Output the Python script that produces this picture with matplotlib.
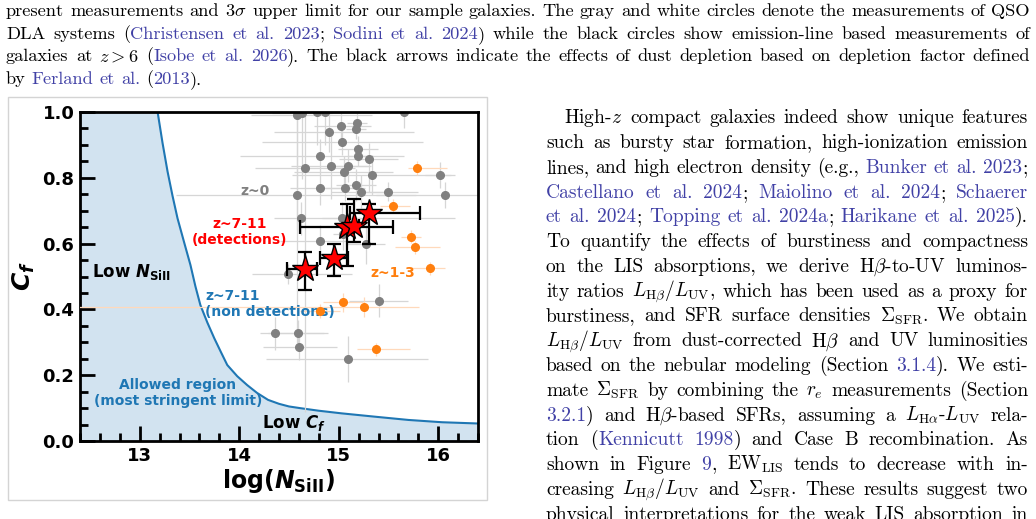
import numpy as np
import matplotlib
matplotlib.use('Agg')
import matplotlib.pyplot as plt
from matplotlib.ticker import MultipleLocator
from matplotlib.patches import Rectangle

plt.rcParams['mathtext.fontset'] = 'custom'
plt.rcParams['mathtext.rm'] = 'DejaVu Sans:bold'
plt.rcParams['mathtext.it'] = 'DejaVu Sans:italic:bold'
plt.rcParams['mathtext.bf'] = 'DejaVu Sans:bold'

# ---- data ----
# allowed-region boundary (log N_SiII, C_f)
curve_x = [13.18, 13.23, 13.28, 13.33, 13.38, 13.45, 13.51, 13.56, 13.61, 13.68, 13.75, 13.82, 13.88,
           13.98, 14.08, 14.18, 14.29, 14.40, 14.50, 14.61, 14.80, 15.03, 15.36, 15.70, 16.04, 16.42]
curve_y = [1.000, 0.905, 0.819, 0.745, 0.677, 0.600, 0.535, 0.470, 0.413, 0.360, 0.312, 0.268, 0.231,
           0.197, 0.170, 0.146, 0.125, 0.113, 0.105, 0.100, 0.092, 0.084, 0.074, 0.064, 0.057, 0.053]

# z~0 QSO DLA (gray)
gray_x = [14.58, 14.63, 14.78, 14.86, 15.66, 15.18, 15.02, 15.17, 14.90, 15.03,
          15.19, 14.81, 15.19, 15.30, 14.66, 14.92, 15.09, 15.05, 15.33, 16.02,
          14.81, 15.06, 15.17, 15.22, 15.50, 14.58, 16.07, 14.62, 15.03, 15.04,
          14.81, 15.27, 14.49, 15.40, 14.36, 14.59, 14.60, 15.09]
gray_y = [0.990, 0.997, 1.000, 1.000, 1.000, 0.968, 0.958, 0.948, 0.938, 0.908,
          0.888, 0.867, 0.867, 0.857, 0.829, 0.837, 0.837, 0.817, 0.808, 0.808,
          0.768, 0.768, 0.778, 0.758, 0.758, 0.748, 0.748, 0.677, 0.677, 0.630,
          0.608, 0.598, 0.508, 0.426, 0.327, 0.327, 0.287, 0.248]
gray_xlo = [0.46, 0.30, 0.30, 0.30, 0.20, 0.10, 0.27, 0.10, 0.55, 0.80,
            0.20, 0.80, 0.10, 0.30, 0.50, 0.40, 0.20, 0.50, 0.80, 0.15,
            0.30, 0.20, 0.20, 0.30, 0.30, 1.22, 0.70, 0.27, 0.20, 0.10,
            0.40, 0.20, 0.36, 0.30, 0.15, 0.30, 0.36, 0.82]
gray_xhi = [0.75, 0.30, 0.30, 0.30, 0.20, 0.10, 0.30, 0.10, 0.86, 0.82,
            0.20, 0.85, 0.10, 0.30, 0.50, 0.40, 0.20, 0.50, 0.80, 0.15,
            0.30, 0.20, 0.20, 0.30, 0.30, 1.20, 0.50, 1.55, 0.20, 0.10,
            0.40, 0.20, 0.64, 0.30, 0.49, 0.30, 0.38, 0.81]
gray_ylo = [0.35, 0.20, 0.10, 0.10, 0.05, 0.03, 0.05, 0.03, 0.06, 0.04,
            0.04, 0.05, 0.03, 0.10, 0.74, 0.10, 0.05, 0.05, 0.06, 0.04,
            0.05, 0.04, 0.05, 0.05, 0.03, 0.45, 0.04, 0.05, 0.05, 0.05,
            0.05, 0.06, 0.03, 0.05, 0.05, 0.04, 0.04, 0.07]
gray_yhi = [0.05, 0.05, 0.05, 0.05, 0.05, 0.03, 0.05, 0.03, 0.06, 0.04,
            0.04, 0.05, 0.03, 0.05, 0.17, 0.10, 0.05, 0.05, 0.06, 0.04,
            0.05, 0.04, 0.05, 0.05, 0.03, 0.25, 0.04, 0.05, 0.05, 0.05,
            0.05, 0.06, 0.03, 0.05, 0.05, 0.04, 0.04, 0.07]

# z~1-3 (orange)
orng_x = [15.79, 15.55, 15.73, 15.77, 15.92, 15.04, 15.25, 14.81, 15.37]
orng_y = [0.830, 0.715, 0.621, 0.589, 0.525, 0.421, 0.408, 0.395, 0.279]
orng_xlo = [0.09, 0.13, 0.10, 0.20, 0.20, 0.20, 3.00, 0.20, 0.19]
orng_xhi = [0.30, 0.17, 0.10, 0.25, 0.15, 0.20, 0.56, 0.20, 0.35]
orng_ye = [0.02, 0.02, 0.02, 0.02, 0.02, 0.03, 0.03, 0.02, 0.02]

# z~7-11 detections (red stars)
star_x = [14.66, 14.95, 15.08, 15.15, 15.30]
star_y = [0.523, 0.555, 0.651, 0.654, 0.692]
star_xlo = [0.18, 0.14, 0.47, 0.05, 0.19]
star_xhi = [0.12, 0.14, 0.47, 0.05, 0.52]
star_ylo = [0.064, 0.053, 0.118, 0.048, 0.094]
star_yhi = [0.052, 0.044, 0.069, 0.082, 0.028]

W, H = 1036, 519
fig = plt.figure(figsize=(W / 100, H / 100), dpi=100)
fig.patch.set_facecolor('white')

# light frame around the embedded figure
fig.patches.append(Rectangle((8 / W, 1 - 500 / H), 479 / W, 403 / H, transform=fig.transFigure,
                             fill=False, edgecolor='#d4d4d4', linewidth=1.0))

ax = fig.add_axes([80 / W, 1 - 441 / H, 398 / W, 329 / H])
ax.set_xlim(12.4, 16.4)
ax.set_ylim(0, 1.0)

x0 = ax.get_xlim()[0]
ax.fill_between([x0] + curve_x, 0, [curve_y[0]] + curve_y, color='C0', alpha=0.2, lw=0, zorder=0)
ax.plot(curve_x, curve_y, color='C0', lw=1.5, zorder=1)

ax.errorbar(gray_x, gray_y, xerr=[gray_xlo, gray_xhi], yerr=[gray_ylo, gray_yhi], fmt='o',
            color='gray', ms=5.5, ecolor='#d6d6d6', elinewidth=0.9, zorder=2)
ax.errorbar(orng_x, orng_y, xerr=[orng_xlo, orng_xhi], yerr=orng_ye, fmt='o',
            color='#ff7f0e', ms=5.5, ecolor='#ffd9bb', elinewidth=0.9, zorder=3)
ax.errorbar(star_x, star_y, xerr=[star_xlo, star_xhi], yerr=[star_ylo, star_yhi], fmt='none',
            ecolor='black', elinewidth=1.6, capsize=5, capthick=1.6, zorder=4)
ax.plot(star_x, star_y, '*', ms=20, color='red', mec='black', mew=1.0, zorder=5, ls='none')

tk = dict(fontweight='bold', math_fontfamily='custom')
ax.text(14.31, 0.76, 'z~0', color='gray', fontsize=10, ha='right', va='center', **tk)
ax.text(14.0, 0.636, 'z~7-11\n(detections)', color='red', fontsize=10, ha='center', va='center',
        multialignment='center', **tk)
ax.text(12.52, 0.515, r'Low $N_{\mathrm{SiII}}$', color='black', fontsize=12, ha='left', va='center', **tk)
ax.text(13.66, 0.416, 'z~7-11\n(non detections)', color='C0', fontsize=10, ha='left', va='center',
        multialignment='left', **tk)
ax.text(15.32, 0.512, 'z~1-3', color='#ff7f0e', fontsize=10, ha='left', va='center', **tk)
ax.text(13.385, 0.146, 'Allowed region\n(most stringent limit)', color='C0', fontsize=10,
        ha='center', va='center', multialignment='center', **tk)
ax.text(14.55, 0.054, r'Low $C_f$', color='black', fontsize=12, ha='center', va='center', **tk)

ax.set_xlabel(r'log($N_{\mathrm{SiII}}$)', fontsize=17, labelpad=2, **tk)
ax.set_ylabel(r'$C_f$', fontsize=18, labelpad=4, **tk)

ax.xaxis.set_major_locator(MultipleLocator(1))
ax.xaxis.set_minor_locator(MultipleLocator(0.2))
ax.yaxis.set_major_locator(MultipleLocator(0.2))
ax.yaxis.set_minor_locator(MultipleLocator(0.05))
ax.tick_params(which='both', direction='in', top=False, right=False, width=2)
ax.tick_params(which='major', length=11, labelsize=13, pad=4)
ax.tick_params(which='minor', length=5.5)
for lb in ax.get_xticklabels() + ax.get_yticklabels():
    lb.set_fontweight('bold')
for s in ax.spines.values():
    s.set_linewidth(2)

# ---- page text around the figure ----
BODY = ['cmr10', 'DejaVu Serif']
LINK = '#4141a6'
renderer = fig.canvas.get_renderer()


def split_words(line):
    words = []
    blue = False
    for w in line.split():
        pieces, cur = [], ''
        for ch in w:
            if ch in '[]':
                if cur:
                    pieces.append((cur, blue))
                    cur = ''
                blue = ch == '['
            else:
                cur += ch
        if cur:
            pieces.append((cur, blue))
        words.append(pieces)
    return words


def make_text(s, size, blue):
    return fig.text(0, 0, s, fontsize=size, family=BODY, color=LINK if blue else 'black',
                    math_fontfamily='cm', ha='left', va='baseline')


def fit_size(lines, avail, s0, smax, gap_em=0.32):
    # largest size at which every justified line still fits with normal spaces
    k = smax / s0
    for ln, a in zip(lines[:-1], avail[:-1]):
        words = split_words(ln)
        total = 0.0
        for pieces in words:
            for s, b in pieces:
                t = make_text(s, s0, b)
                total += t.get_window_extent(renderer).width
                t.remove()
        need = total + (len(words) - 1) * gap_em * s0 * 100 / 72
        k = min(k, a / need)
    return s0 * k


def put_line(line, xa, xb, base, size, justify=True):
    items, total = [], 0.0
    for pieces in split_words(line):
        row = []
        for s, b in pieces:
            t = make_text(s, size, b)
            wd = t.get_window_extent(renderer).width
            row.append((t, wd))
            total += wd
        items.append(row)
    if justify and len(items) > 1:
        gap = (xb - xa - total) / (len(items) - 1)
    else:
        gap = size * 100 / 72 * 0.33
    x = xa
    for row in items:
        for t, wd in row:
            t.set_position((x / W, 1 - base / H))
            x += wd
        x += gap


caption = [
    r'present measurements and 3$\sigma$ upper limit for our sample galaxies. The gray and white circles denote the measurements of QSO',
    r'DLA systems ([Christensen et al. 2023]; [Sodini et al. 2024]) while the black circles show emission-line based measurements of',
    r'galaxies at $z>6$ ([Isobe et al. 2026]). The black arrows indicate the effects of dust depletion based on depletion factor defined',
    r'by [Ferland et al.] ([2013]).',
]
cap_size = fit_size(caption, [1024] * len(caption), 12, 14)
for i, ln in enumerate(caption):
    put_line(ln, 6, 1030, 16 + 22.7 * i, cap_size, justify=i < len(caption) - 1)

column = [
    r'High-$z$ compact galaxies indeed show unique features',
    r'such as bursty star formation, high-ionization emission',
    r'lines, and high electron density (e.g., [Bunker et al. 2023];',
    r'[Castellano et al. 2024]; [Maiolino et al. 2024]; [Schaerer',
    r'[et al. 2024]; [Topping et al. 2024a]; [Harikane et al. 2025]).',
    r'To quantify the effects of burstiness and compactness',
    r'on the LIS absorptions, we derive H$\beta$-to-UV luminos-',
    r'ity ratios $L_{\mathrm{H\beta}}/L_{\mathrm{UV}}$, which has been used as a proxy for',
    r'burstiness, and SFR surface densities $\Sigma_{\mathrm{SFR}}$. We obtain',
    r'$L_{\mathrm{H\beta}}/L_{\mathrm{UV}}$ from dust-corrected H$\beta$ and UV luminosities',
    r'based on the nebular modeling (Section [3.1.4]). We esti-',
    r'mate $\Sigma_{\mathrm{SFR}}$ by combining the $r_e$ measurements (Section',
    r'[3.2.1]) and H$\beta$-based SFRs, assuming a $L_{\mathrm{H\alpha}}$-$L_{\mathrm{UV}}$ rela-',
    r'tion ([Kennicutt 1998]) and Case B recombination. As',
    r'shown in Figure [9], EW$_{\mathrm{LIS}}$ tends to decrease with in-',
    r'creasing $L_{\mathrm{H\beta}}/L_{\mathrm{UV}}$ and $\Sigma_{\mathrm{SFR}}$. These results suggest two',
    r'physical interpretations for the weak LIS absorption in',
]
col_avail = [1028 - 564] + [1028 - 546] * (len(column) - 1)
col_size = fit_size(column + [''], col_avail + [0], 13, 16)
for i, ln in enumerate(column):
    xa = 564 if i == 0 else 546
    put_line(ln, xa, 1028, 123.3 + 24.77 * i, col_size)

fig.savefig('out.png', dpi=100)
